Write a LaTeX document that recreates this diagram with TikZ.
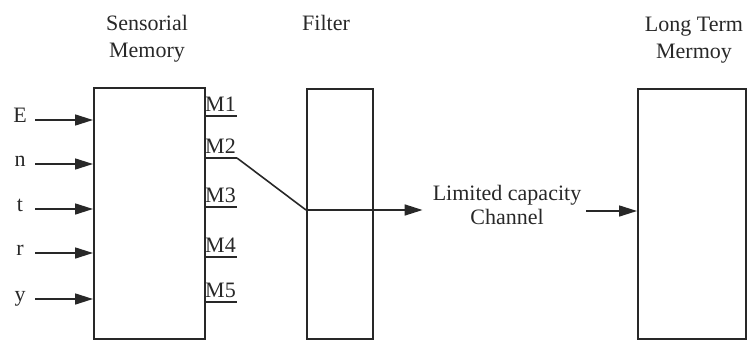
\documentclass[tikz,border=0pt]{standalone}
\usepackage{fontspec}
\setmainfont{Liberation Serif}
\usetikzlibrary{arrows.meta}
\definecolor{ink}{RGB}{40,40,40}
\begin{document}
\begin{tikzpicture}[x=1pt,y=-1pt,
  every node/.style={text=ink},
  lab/.style={font=\fontsize{22}{27}\selectfont, inner sep=0pt},
  box/.style={draw=ink, line width=1.6pt, inner sep=0pt, anchor=north west},
  wire/.style={draw=ink, line width=1.6pt},
  arr/.style={wire, -{Triangle[length=18pt,width=11pt]}},
  inp/.style={lab, minimum width=30pt, anchor=mid},
  mlab/.style={lab, anchor=base west}]
\useasboundingbox (0,0) rectangle (749,340);

% titles (base anchor sits on the last line)
\node[lab, align=center, anchor=base] (tsm) at (147,57) {Sensorial\\Memory};
\node[lab, anchor=base] (tf) at (326,30) {Filter};
\node[lab, align=center, anchor=base] (tltm) at (694,58) {Long Term\\Mermoy};

% the three stores
\node[box, minimum width=111pt, minimum height=251pt] (sm) at (93,87) {};
\node[box, minimum width=66pt, minimum height=250pt] (f) at (306,88) {};
\node[box, minimum width=108pt, minimum height=250pt] (ltm) at (637,88) {};

% inputs
\foreach \n/\t/\y in {E/E/120, N/n/164, T/t/209, R/r/253, Y/y/299}{
  \node[inp] (\n) at (20,\y) {\t};
  \draw[arr] (\n.mid east) -- (sm.west |- \n.mid east);
}

% memory registers
\foreach \i/\u in {1/116, 2/158, 3/207, 4/257, 5/302}{
  \coordinate (u\i) at (204,\u);
  \node[mlab] (m\i) at (205,\u-5) {M\i};
  \draw[wire] (u\i) -- ++(33,0) coordinate (u\i e);
}

% channel
\node[lab, align=center, anchor=base, font=\fontsize{22}{24}\selectfont] (ch) at (507,224) {Limited capacity\\Channel};
\coordinate (j) at (f.west |- 0,210);
\draw[wire] (u2e) -- (j);
\draw[arr, shorten >=10pt] (j) -- (ch.west |- j);
\coordinate (k) at (ch.east |- 0,211);
\draw[arr, shorten <=5pt] (k) -- (ltm.west |- k);
\end{tikzpicture}
\end{document}
